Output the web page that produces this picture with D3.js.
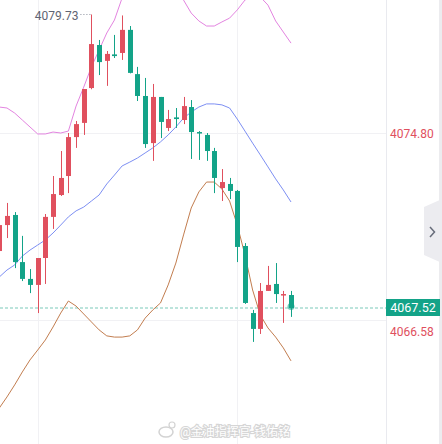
<!DOCTYPE html>
<html>
<head>
<meta charset="utf-8">
<script src="https://cdn.jsdelivr.net/npm/d3@7"></script>
<style>
  html, body { margin: 0; padding: 0; background: #fff; }
  svg { display: block; }
  text { font-family: Roboto, "Noto Sans", "Noto Sans CJK SC", sans-serif; }
</style>
</head>
<body>
<div id="chart"></div>
<script>
// candles, oldest first
var opens  = [4069.89, 4070.97, 4071.39, 4069.43, 4068.73, 4068.48, 4069.60, 4071.31, 4072.22, 4073.01,
              4074.63, 4075.22, 4076.67, 4078.46, 4077.80, 4078.07, 4078.13, 4079.09, 4077.25, 4076.34,
              4074.38, 4076.30, 4075.01, 4075.45, 4075.34, 4075.88, 4074.84, 4074.72, 4074.05, 4072.51,
              4072.68, 4072.39, 4070.10, 4067.31, 4066.65, 4068.23, 4068.52, 4068.04, 4068.06];
var closes = [4070.97, 4071.35, 4069.43, 4068.73, 4068.48, 4069.60, 4071.31, 4072.26, 4072.93, 4074.63,
              4075.17, 4076.63, 4078.50, 4077.75, 4078.09, 4078.00, 4079.09, 4077.30, 4076.34, 4074.34,
              4076.30, 4075.26, 4075.38, 4075.38, 4075.92, 4074.84, 4074.78, 4074.05, 4072.93, 4072.76,
              4072.39, 4070.06, 4067.73, 4066.65, 4068.23, 4068.48, 4068.10, 4068.10, 4067.52];
var highs  = [4071.10, 4071.89, 4071.51, 4070.52, 4069.14, 4069.60, 4071.43, 4073.01, 4074.05, 4074.80,
              4075.30, 4076.63, 4079.73, 4078.67, 4078.21, 4078.88, 4079.69, 4079.25, 4077.55, 4077.09,
              4076.84, 4076.30, 4075.76, 4075.84, 4076.30, 4076.17, 4074.88, 4074.80, 4074.18, 4073.30,
              4072.93, 4072.43, 4070.22, 4067.44, 4068.56, 4069.27, 4069.39, 4068.23, 4068.23];
var lows   = [4069.77, 4070.43, 4069.18, 4068.64, 4068.14, 4067.31, 4068.52, 4070.81, 4072.18, 4072.30,
              4074.18, 4074.72, 4076.62, 4077.21, 4076.76, 4077.92, 4077.84, 4077.28, 4076.13, 4074.18,
              4073.64, 4074.59, 4074.88, 4075.01, 4075.17, 4073.72, 4073.68, 4073.64, 4072.30, 4071.97,
              4072.05, 4069.43, 4067.69, 4066.11, 4066.44, 4068.23, 4067.73, 4066.90, 4067.15];

// bollinger bands
var upperBand = [4075.88, 4075.84, 4075.63, 4075.34, 4075.05, 4074.76, 4074.76, 4074.84, 4074.80, 4074.88,
                 4075.92, 4076.71, 4077.55, 4078.25, 4078.96, 4079.50, 4080.42, 4081.16, 4081.58, 4081.79,
                 4081.79, 4081.58, 4081.16, 4080.67, 4080.33, 4079.79, 4079.46, 4079.25, 4079.25, 4079.42,
                 4079.58, 4079.92, 4080.33, 4080.54, 4080.46, 4080.12, 4079.46, 4079.00, 4078.54];
var midBand   = [4068.81, 4069.10, 4069.31, 4069.68, 4069.93, 4070.14, 4070.35, 4070.64, 4070.97, 4071.31,
                 4071.56, 4071.72, 4071.97, 4072.22, 4072.68, 4073.05, 4073.43, 4073.59, 4073.76, 4073.97,
                 4074.18, 4074.43, 4074.72, 4075.05, 4075.42, 4075.67, 4075.88, 4076.01, 4076.01, 4075.97,
                 4075.84, 4075.38, 4074.88, 4074.38, 4073.89, 4073.39, 4072.89, 4072.43, 4071.93];
var lowerBand = [4063.36, 4063.82, 4064.32, 4064.86, 4065.36, 4065.77, 4066.19, 4066.73, 4067.31, 4067.81,
                 4067.60, 4067.27, 4066.94, 4066.61, 4066.36, 4066.31, 4066.31, 4066.36, 4066.61, 4067.10,
                 4067.44, 4067.73, 4068.48, 4069.39, 4070.56, 4071.68, 4072.35, 4072.76, 4072.76, 4072.47,
                 4071.97, 4070.97, 4069.73, 4068.27, 4067.23, 4066.69, 4066.31, 4065.86, 4065.32];

var axisTicks = [4074.80, 4066.58];
var gridPrices = [4074.80, 4067.02];
var gridCandles = [5, 31];
var highLabel = 4079.73;
var lastPrice = 4067.52;
var watermark = "@金油指挥官-钱佑铭";

var width = 442, height = 444;
var plotRight = 386;
var upColour = "#e0505e", downColour = "#13a388";

var svg = d3.select("#chart").append("svg")
    .attr("width", width)
    .attr("height", height);

var x = d3.scaleLinear().domain([0, opens.length - 1]).range([-0.7, 291]);
var y = d3.scaleLinear().domain([4074.80, 4067.52]).range([133, 308]);

var plot = svg.append("g");

// grid
plot.selectAll(".hgrid").data(gridPrices).enter().append("line")
    .attr("x1", 0).attr("x2", plotRight)
    .attr("y1", function(d) { return Math.round(y(d)) + 0.5; })
    .attr("y2", function(d) { return Math.round(y(d)) + 0.5; })
    .attr("stroke", "#f1f1f4");
plot.selectAll(".vgrid").data(gridCandles).enter().append("line")
    .attr("x1", function(d) { return Math.round(x(d)) + 0.5; })
    .attr("x2", function(d) { return Math.round(x(d)) + 0.5; })
    .attr("y1", 0).attr("y2", height)
    .attr("stroke", "#f1f1f4");

// last price dashed line
plot.append("line")
    .attr("x1", 0).attr("x2", plotRight)
    .attr("y1", y(lastPrice)).attr("y2", y(lastPrice))
    .attr("stroke", "#a6dcd1").attr("stroke-width", 1.3)
    .attr("stroke-dasharray", "3,2");

// bands
var line = d3.line()
    .x(function(d, i) { return x(i); })
    .y(function(d) { return y(d); });
[[upperBand, "#e384e0"], [midBand, "#7d8ff3"], [lowerBand, "#c27d4f"]].forEach(function(b) {
    plot.append("path")
        .datum(b[0])
        .attr("d", line)
        .attr("fill", "none")
        .attr("stroke", b[1])
        .attr("stroke-width", 1);
});

// candles
var candles = plot.selectAll(".candle")
    .data(opens.map(function(o, i) {
        return { i: i, o: o, c: closes[i], h: highs[i], l: lows[i] };
    }))
    .enter().append("g");
candles.append("line")
    .attr("x1", function(d) { return Math.round(x(d.i)) + 0.5; })
    .attr("x2", function(d) { return Math.round(x(d.i)) + 0.5; })
    .attr("y1", function(d) { return y(d.h); })
    .attr("y2", function(d) { return y(d.l); })
    .attr("stroke", function(d) { return d.c >= d.o ? upColour : downColour; });
candles.append("rect")
    .attr("x", function(d) { return Math.round(x(d.i)) - 2; })
    .attr("width", 5)
    .attr("y", function(d) { return y(Math.max(d.o, d.c)); })
    .attr("height", function(d) { return Math.max(1.5, Math.abs(y(d.o) - y(d.c))); })
    .attr("fill", function(d) { return d.c >= d.o ? upColour : downColour; });

// glowing dot on the last close
var last = opens.length - 1;
plot.append("circle")
    .attr("cx", x(last)).attr("cy", y(lastPrice) - 1.5)
    .attr("r", 3.5)
    .attr("fill", downColour).attr("opacity", 0.6);

// high marker
var hiIdx = highs.indexOf(highLabel);
plot.append("line")
    .attr("x1", x(hiIdx) - 11).attr("x2", Math.round(x(hiIdx)) + 0.5)
    .attr("y1", y(highLabel)).attr("y2", y(highLabel))
    .attr("stroke", "#8a8f9c").attr("stroke-dasharray", "1,2");
plot.append("text")
    .attr("x", x(hiIdx) - 13)
    .attr("y", y(highLabel) + 1)
    .attr("dy", "0.35em")
    .attr("text-anchor", "end")
    .attr("font-size", 12)
    .attr("fill", "#5f6472")
    .text(d3.format(".2f")(highLabel));

// right axis panel
svg.append("line")
    .attr("x1", plotRight + 0.5).attr("x2", plotRight + 0.5)
    .attr("y1", 0).attr("y2", height)
    .attr("stroke", "#e9eaef");
svg.append("rect")
    .attr("x", 439).attr("y", 0).attr("width", 3).attr("height", height)
    .attr("fill", "#ececef");

var axis = svg.append("g")
    .attr("transform", "translate(" + plotRight + ",0)")
    .call(d3.axisRight(y).tickValues(axisTicks).tickSize(0).tickPadding(4).tickFormat(d3.format(".2f")));
axis.select(".domain").remove();
axis.selectAll("text")
    .attr("fill", upColour)
    .attr("font-size", 12)
    .attr("font-family", "Roboto, 'Noto Sans', sans-serif")
    .attr("dy", "0.4em");

// last price tag
svg.append("rect")
    .attr("x", plotRight).attr("y", y(lastPrice) - 9)
    .attr("width", 54).attr("height", 17)
    .attr("fill", downColour);
svg.append("text")
    .attr("x", plotRight + 27).attr("y", y(lastPrice))
    .attr("dy", "0.35em")
    .attr("text-anchor", "middle")
    .attr("font-size", 12.5)
    .attr("fill", "#fff")
    .text(d3.format(".2f")(lastPrice));

// side tab
svg.append("path")
    .attr("d", "M442,199 L424,207 L424,255 L442,263 Z")
    .attr("fill", "#ececf0");
svg.append("path")
    .attr("d", "M430,227 L434.5,232 L430,237")
    .attr("fill", "none")
    .attr("stroke", "#676c7a")
    .attr("stroke-width", 1.5);

// watermark
var wm = svg.append("g").attr("opacity", 0.9);
wm.append("ellipse")
    .attr("cx", 166).attr("cy", 432).attr("rx", 7).attr("ry", 5)
    .attr("fill", "#fff").attr("stroke", "#cfcfcf").attr("stroke-width", 1.5);
wm.append("circle")
    .attr("cx", 172).attr("cy", 425).attr("r", 3)
    .attr("fill", "#fff").attr("stroke", "#cfcfcf").attr("stroke-width", 1.2);
wm.append("text")
    .attr("x", 180).attr("y", 432)
    .attr("dy", "0.35em")
    .attr("font-size", 12)
    .attr("font-family", "'Noto Sans CJK SC', sans-serif")
    .attr("fill", "#fff")
    .attr("stroke", "#d2d2d2")
    .attr("stroke-width", 2.2)
    .attr("paint-order", "stroke")
    .text(watermark);
</script>
</body>
</html>
